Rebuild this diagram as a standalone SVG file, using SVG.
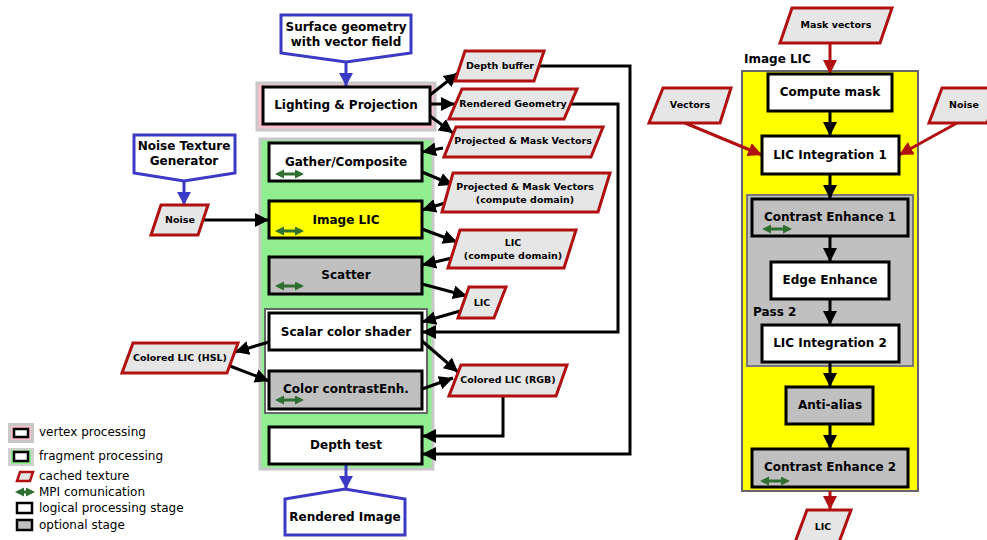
<svg xmlns="http://www.w3.org/2000/svg" width="987" height="540" viewBox="0 0 987 540">
<defs>
<style>
.box{stroke:#000;stroke-width:3}
.w{fill:#fff}.y{fill:#ffff00}.g{fill:#c0c0c0}
.tex{fill:#e6e6e6;stroke:#b01010;stroke-width:3;stroke-linejoin:miter}
.src{fill:#fff;stroke:#3a3ac4;stroke-width:3}
.t{font-family:"DejaVu Sans",Verdana,sans-serif;font-weight:bold;font-size:12px;text-anchor:middle;fill:#000}
.ts{font-family:"DejaVu Sans",Verdana,sans-serif;font-weight:bold;font-size:9.5px;text-anchor:middle;fill:#000}
.lg{font-family:"DejaVu Sans",Verdana,sans-serif;font-size:12px;fill:#000}
.c{fill:none;stroke:#000;stroke-width:3}
.cb{fill:none;stroke:#3a3ac4;stroke-width:3}
.cr{fill:none;stroke:#b01010;stroke-width:3}
.mpi{fill:none;stroke:#2f6f2f;stroke-width:3}
</style>
<marker id="ab" markerUnits="userSpaceOnUse" markerWidth="15" markerHeight="14" refX="14" refY="7" orient="auto"><path d="M0,0 L14,7 L0,14 z" fill="#000"/></marker>
<marker id="ar" markerUnits="userSpaceOnUse" markerWidth="15" markerHeight="14" refX="14" refY="7" orient="auto"><path d="M0,0 L14,7 L0,14 z" fill="#b01010"/></marker>
<marker id="au" markerUnits="userSpaceOnUse" markerWidth="15" markerHeight="14" refX="13" refY="7" orient="auto"><path d="M0,0 L13,7 L0,14 z" fill="#3a3ac4"/></marker>
<marker id="ag" markerUnits="userSpaceOnUse" markerWidth="10" markerHeight="10" refX="6" refY="4.5" orient="auto-start-reverse"><path d="M0,0 L9,4.5 L0,9 z" fill="#2f6f2f"/></marker>
</defs>
<rect width="987" height="540" fill="#fff"/>

<!-- backgrounds -->
<g id="vertex-bg"><rect x="257" y="83" width="178" height="47" fill="#ffc0cb" stroke="#c8c8c8" stroke-width="3"/></g>
<g id="fragment-bg"><rect x="260" y="139" width="173" height="330" fill="#90ee90" stroke="#c8c8c8" stroke-width="3"/></g>
<g id="color-group"><rect x="265" y="309" width="162" height="104" fill="#fff" stroke="#666" stroke-width="2"/></g>
<g id="imagelic-container"><rect x="742" y="71" width="176" height="420" fill="#ffff00" stroke="#666" stroke-width="2"/><text class="t" x="744" y="63.3" style="text-anchor:start">Image LIC</text></g>
<g id="pass2-container"><rect x="747" y="195" width="166" height="171" fill="#c0c0c0" stroke="#777" stroke-width="2"/><text class="t" x="753" y="316.3" style="text-anchor:start">Pass 2</text></g>

<!-- connectors -->
<g id="connectors">
<path class="c" d="M430,95 L458,73" marker-end="url(#ab)"/>
<path class="c" d="M430,104 L455,104" marker-end="url(#ab)"/>
<path class="c" d="M430,116 L453,133" marker-end="url(#ab)"/>
<path class="c" d="M443,148 L422,152" marker-end="url(#ab)"/>
<path class="c" d="M422,172 L453,185" marker-end="url(#ab)"/>
<path class="c" d="M445,203 L422,210" marker-end="url(#ab)"/>
<path class="c" d="M198,220 L269,220" marker-end="url(#ab)"/>
<path class="c" d="M422,229 L457,242" marker-end="url(#ab)"/>
<path class="c" d="M452,258 L422,265" marker-end="url(#ab)"/>
<path class="c" d="M422,284 L467,296" marker-end="url(#ab)"/>
<path class="c" d="M460,311 L422,322" marker-end="url(#ab)"/>
<path class="c" d="M565,104 L618,104 L618,332 L422,332" marker-end="url(#ab)"/>
<path class="c" d="M535,66 L630,66 L630,454 L422,454" marker-end="url(#ab)"/>
<path class="c" d="M269,342 L235,352" marker-end="url(#ab)"/>
<path class="c" d="M230,366 L269,381" marker-end="url(#ab)"/>
<path class="c" d="M422,341 L458,372" marker-end="url(#ab)"/>
<path class="c" d="M422,389 L453,378" marker-end="url(#ab)"/>
<path class="c" d="M503,396 L503,436 L422,436" marker-end="url(#ab)"/>
<path class="cb" d="M346,62 L346,86" marker-end="url(#au)"/>
<path class="cb" d="M184,181 L184,205" marker-end="url(#au)"/>
<path class="cb" d="M346,464 L346,489" marker-end="url(#au)"/>
<path class="cr" d="M830,43 L830,74" marker-end="url(#ar)"/>
<path class="cr" d="M685,123 L762,155" marker-end="url(#ar)"/>
<path class="cr" d="M957,123 L899,155" marker-end="url(#ar)"/>
<path class="cr" d="M830,491 L830,510" marker-end="url(#ar)"/>
<path class="c" d="M830,111 L830,136" marker-end="url(#ab)"/>
<path class="c" d="M830,174 L830,199" marker-end="url(#ab)"/>
<path class="c" d="M830,236 L830,262" marker-end="url(#ab)"/>
<path class="c" d="M830,299 L830,325" marker-end="url(#ab)"/>
<path class="c" d="M830,362 L830,387" marker-end="url(#ab)"/>
<path class="c" d="M830,424 L830,449" marker-end="url(#ab)"/>
</g>

<!-- left nodes -->
<g id="surface-geometry"><polygon class="src" points="281,15 411,15 411,53 346,62 281,53"/><text class="t" x="346" y="31.3">Surface geometry</text><text class="t" x="346" y="46.3">with vector field</text></g>
<g id="noise-generator"><polygon class="src" points="134,135 235,135 235,173 184,181 134,173"/><text class="t" x="184" y="150.3">Noise Texture</text><text class="t" x="184" y="165.3">Generator</text></g>
<g id="lighting"><rect class="box w" x="263" y="87" width="167" height="37"/><text class="t" x="346" y="109.3">Lighting &amp; Projection</text></g>
<g id="depth-buffer"><polygon class="tex" points="465,51 544,51 534,81 455,81"/><text class="ts" x="500" y="69.4">Depth buffer</text></g>
<g id="rendered-geometry"><polygon class="tex" points="462,89 577,89 564,119 449,119"/><text class="ts" x="513" y="107.4">Rendered Geometry</text></g>
<g id="pmv1"><polygon class="tex" points="456,127 603,127 591,157 444,157"/><text class="ts" x="523" y="144.4">Projected &amp; Mask Vectors</text></g>
<g id="gather"><rect class="box w" x="269" y="143" width="153" height="38"/><text class="t" x="346" y="166.3">Gather/Composite</text><path class="mpi" d="M278,174 L301,174" marker-start="url(#ag)" marker-end="url(#ag)"/></g>
<g id="pmv2"><polygon class="tex" points="453,173 610,173 598,212 442,212"/><text class="ts" x="525" y="190.4">Projected &amp; Mask Vectors</text><text class="ts" x="525" y="203.4">(compute domain)</text></g>
<g id="noise-left"><polygon class="tex" points="161,205 208,205 198,235 151,235"/><text class="ts" x="180" y="223.4">Noise</text></g>
<g id="image-lic"><rect class="box y" x="269" y="201" width="153" height="37"/><text class="t" x="346" y="224.3">Image LIC</text><path class="mpi" d="M278,231 L301,231" marker-start="url(#ag)" marker-end="url(#ag)"/></g>
<g id="lic-cd"><polygon class="tex" points="460,230 576,230 564,268 448,268"/><text class="ts" x="513" y="246.4">LIC</text><text class="ts" x="513" y="259.4">(compute domain)</text></g>
<g id="scatter"><rect class="box g" x="269" y="257" width="153" height="37"/><text class="t" x="346" y="279.3">Scatter</text><path class="mpi" d="M278,286 L301,286" marker-start="url(#ag)" marker-end="url(#ag)"/></g>
<g id="lic-small"><polygon class="tex" points="469,287 506,287 494,318 458,318"/><text class="ts" x="482" y="306.4">LIC</text></g>
<g id="scalar-shader"><rect class="box w" x="269" y="313" width="153" height="37"/><text class="t" x="346" y="336">Scalar color shader</text></g>
<g id="colored-hsl"><polygon class="tex" points="133,343 238,343 227,373 122,373"/><text class="ts" x="180" y="361.4">Colored LIC (HSL)</text></g>
<g id="color-contrast"><rect class="box g" x="269" y="371" width="153" height="38"/><text class="t" x="346" y="393.3">Color contrastEnh.</text><path class="mpi" d="M278,400 L301,400" marker-start="url(#ag)" marker-end="url(#ag)"/></g>
<g id="colored-rgb"><polygon class="tex" points="461,365 567,365 556,396 449,396"/><text class="ts" x="508" y="383.4">Colored LIC (RGB)</text></g>
<g id="depth-test"><rect class="box w" x="269" y="427" width="153" height="37"/><text class="t" x="346" y="449.3">Depth test</text></g>
<g id="rendered-image"><polygon class="src" points="285,499 345,489 405,499 405,535 285,535"/><text class="t" x="345" y="521.3">Rendered Image</text></g>

<!-- right nodes -->
<g id="mask-vectors"><polygon class="tex" points="792,8 892,8 880,43 780,43"/><text class="ts" x="836" y="28.4">Mask vectors</text></g>
<g id="vectors"><polygon class="tex" points="663,88 731,88 720,123 649,123"/><text class="ts" x="690" y="108.4">Vectors</text></g>
<g id="noise-right"><polygon class="tex" points="942,88 1000,88 987,123 929,123"/><text class="ts" x="964" y="108.4">Noise</text></g>
<g id="compute-mask"><rect class="box w" x="768" y="74" width="124" height="37"/><text class="t" x="830" y="96.3">Compute mask</text></g>
<g id="lic-int1"><rect class="box w" x="762" y="136" width="137" height="38"/><text class="t" x="830" y="159.3">LIC Integration 1</text></g>
<g id="contrast1"><rect class="box g" x="752" y="199" width="156" height="37"/><text class="t" x="830" y="221.3">Contrast Enhance 1</text><path class="mpi" d="M765,229 L789,229" marker-start="url(#ag)" marker-end="url(#ag)"/></g>
<g id="edge-enhance"><rect class="box w" x="771" y="262" width="118" height="37"/><text class="t" x="830" y="284.3">Edge Enhance</text></g>
<g id="lic-int2"><rect class="box w" x="762" y="325" width="137" height="37"/><text class="t" x="830" y="347.3">LIC Integration 2</text></g>
<g id="anti-alias"><rect class="box g" x="786" y="387" width="87" height="37"/><text class="t" x="830" y="409.3">Anti-alias</text></g>
<g id="contrast2"><rect class="box g" x="752" y="449" width="156" height="38"/><text class="t" x="830" y="471.3">Contrast Enhance 2</text><path class="mpi" d="M763,481 L787,481" marker-start="url(#ag)" marker-end="url(#ag)"/></g>
<g id="lic-out"><polygon class="tex" points="807,510 851,510 838,545 794,545"/><text class="ts" x="823" y="530.4">LIC</text></g>

<!-- legend -->
<g id="legend">
<rect x="8" y="423" width="26" height="20" fill="#c8c8c8"/><rect x="11" y="426" width="20" height="14" fill="#ffc0cb"/><rect x="14" y="429" width="14" height="8" fill="#fff" stroke="#000" stroke-width="2.5"/>
<text class="lg" x="39" y="436.3">vertex processing</text>
<rect x="8" y="448" width="26" height="18" fill="#d0d0d0"/><rect x="11" y="450" width="20" height="14" fill="#90ee90"/><rect x="14" y="452" width="14" height="9" fill="#fff" stroke="#000" stroke-width="2.5"/>
<text class="lg" x="39" y="460.3">fragment processing</text>
<polygon points="20,472 33,472 30,481 17,481" fill="#e6e6e6" stroke="#b01010" stroke-width="2.5"/>
<text class="lg" x="39" y="480.3">cached texture</text>
<path class="mpi" d="M18,492 L32,492" marker-start="url(#ag)" marker-end="url(#ag)"/>
<text class="lg" x="39" y="496.3">MPI comunication</text>
<rect x="17" y="503" width="15" height="10" fill="#fff" stroke="#000" stroke-width="2.5"/>
<text class="lg" x="39" y="512.3">logical processing stage</text>
<rect x="17" y="520" width="15" height="10" fill="#c0c0c0" stroke="#000" stroke-width="2.5"/>
<text class="lg" x="39" y="529.3">optional stage</text>
</g>
</svg>
